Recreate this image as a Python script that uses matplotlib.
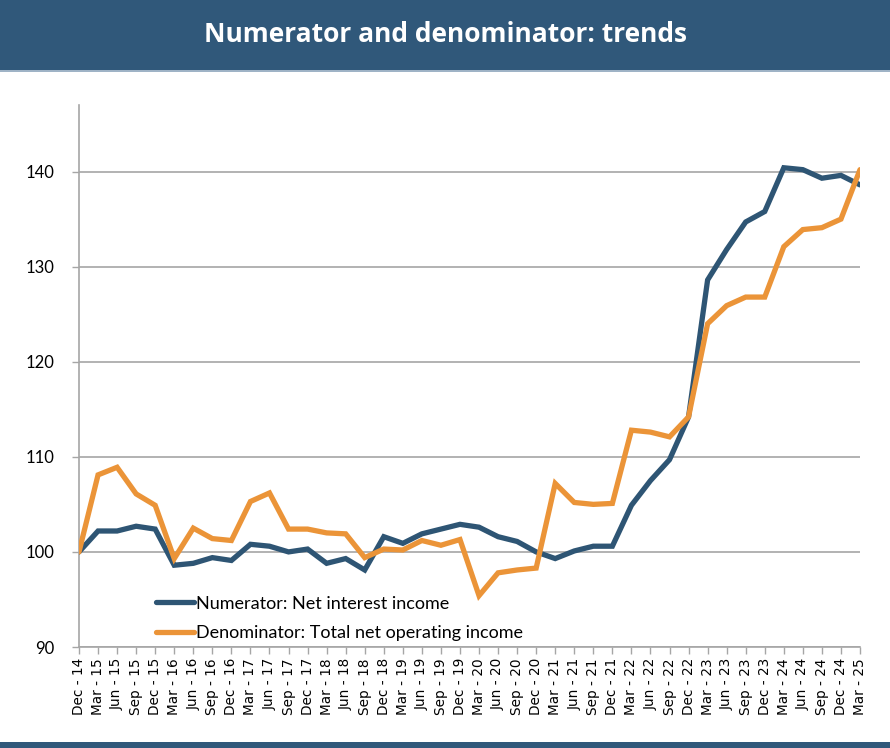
import matplotlib
matplotlib.use("Agg")
import matplotlib.pyplot as plt
from matplotlib.patches import Rectangle

quarters = ["Dec - 14", "Mar - 15", "Jun - 15", "Sep - 15", "Dec - 15", "Mar - 16", "Jun - 16", "Sep - 16",
            "Dec - 16", "Mar - 17", "Jun - 17", "Sep - 17", "Dec - 17", "Mar - 18", "Jun - 18", "Sep - 18",
            "Dec - 18", "Mar - 19", "Jun - 19", "Sep - 19", "Dec - 19", "Mar - 20", "Jun - 20", "Sep - 20",
            "Dec - 20", "Mar - 21", "Jun - 21", "Sep - 21", "Dec - 21", "Mar - 22", "Jun - 22", "Sep - 22",
            "Dec - 22", "Mar - 23", "Jun - 23", "Sep - 23", "Dec - 23", "Mar - 24", "Jun - 24", "Sep - 24",
            "Dec - 24", "Mar - 25"]

numerator = [100.0, 102.2, 102.2, 102.7, 102.4, 98.6, 98.8, 99.4, 99.1, 100.8, 100.6, 100.0,
             100.3, 98.8, 99.3, 98.1, 101.6, 100.9, 101.9, 102.4, 102.9, 102.6, 101.6, 101.1,
             100.0, 99.3, 100.1, 100.6, 100.6, 104.9, 107.5, 109.7, 114.2, 128.6, 131.8, 134.7,
             135.8, 140.4, 140.2, 139.3, 139.6, 138.6]

denominator = [100.0, 108.1, 108.9, 106.1, 104.9, 99.3, 102.5, 101.4, 101.2, 105.3, 106.2, 102.4,
               102.4, 102.0, 101.9, 99.4, 100.3, 100.2, 101.2, 100.7, 101.3, 95.4, 97.8, 98.1,
               98.3, 107.2, 105.2, 105.0, 105.1, 112.8, 112.6, 112.1, 114.2, 124.0, 125.9, 126.8,
               126.8, 132.1, 133.9, 134.1, 135.0, 140.2]

y_ticks = [90, 100, 110, 120, 130, 140]

BLUE = "#2E5574"
ORANGE = "#EB9438"
BANNER = "#30587A"

W, H = 890, 748
fig = plt.figure(figsize=(W / 100, H / 100), dpi=100)
fig.patch.set_facecolor("white")

# banner
fig.patches.append(Rectangle((0, 1 - 70 / H), 1, 70 / H, transform=fig.transFigure,
                             facecolor=BANNER, edgecolor="none", zorder=0))
fig.patches.append(Rectangle((0, 1 - 72 / H), 1, 2 / H, transform=fig.transFigure,
                             facecolor="#9FB3C6", edgecolor="none", zorder=0))
fig.patches.append(Rectangle((0, 0), 1, 6 / H, transform=fig.transFigure,
                             facecolor=BANNER, edgecolor="none", zorder=0))
fig.text(0.5, 1 - 34 / H, "Numerator and denominator: trends", color="white",
         fontsize=19, fontweight="bold", family="Open Sans", ha="center", va="center")

left, right = 79, 860
top, bottom = 105, 647
ax = fig.add_axes([left / W, 1 - bottom / H, (right - left) / W, (bottom - top) / H])
x = list(range(len(quarters)))
ax.plot(x, numerator, color=BLUE, lw=3.8, solid_capstyle="round", solid_joinstyle="miter",
        label="Numerator: Net interest income", zorder=3)
ax.plot(x, denominator, color=ORANGE, lw=3.8, solid_capstyle="round", solid_joinstyle="miter",
        label="Denominator: Total net operating income", zorder=4)

ax.set_xlim(0, len(quarters) - 1)
ax.set_ylim(90, 147)
ax.set_yticks(y_ticks)
ax.set_yticklabels([str(v) for v in y_ticks], fontsize=12, family="Lato")
ax.set_xticks(x)
ax.set_xticklabels(quarters, rotation=90, fontsize=9.8, family="DejaVu Sans")
ax.grid(axis="y", color="#A6A6A6", lw=1.2, zorder=1)
ax.set_axisbelow(True)
for s in ["top", "right"]:
    ax.spines[s].set_visible(False)
for s in ["left", "bottom"]:
    ax.spines[s].set_color("#A6A6A6")
    ax.spines[s].set_linewidth(1.2)
ax.tick_params(axis="both", direction="out", length=5, color="#A6A6A6", width=1.0, pad=3)
ax.tick_params(axis="y", pad=13)

leg = ax.legend(loc="lower left", bbox_to_anchor=(0.085, -0.009), frameon=False,
                prop={"family": "Lato", "size": 13.0}, handlelength=2.1, handletextpad=0.1,
                labelspacing=0.75, borderaxespad=0.2)

fig.savefig("out.png", dpi=100)
